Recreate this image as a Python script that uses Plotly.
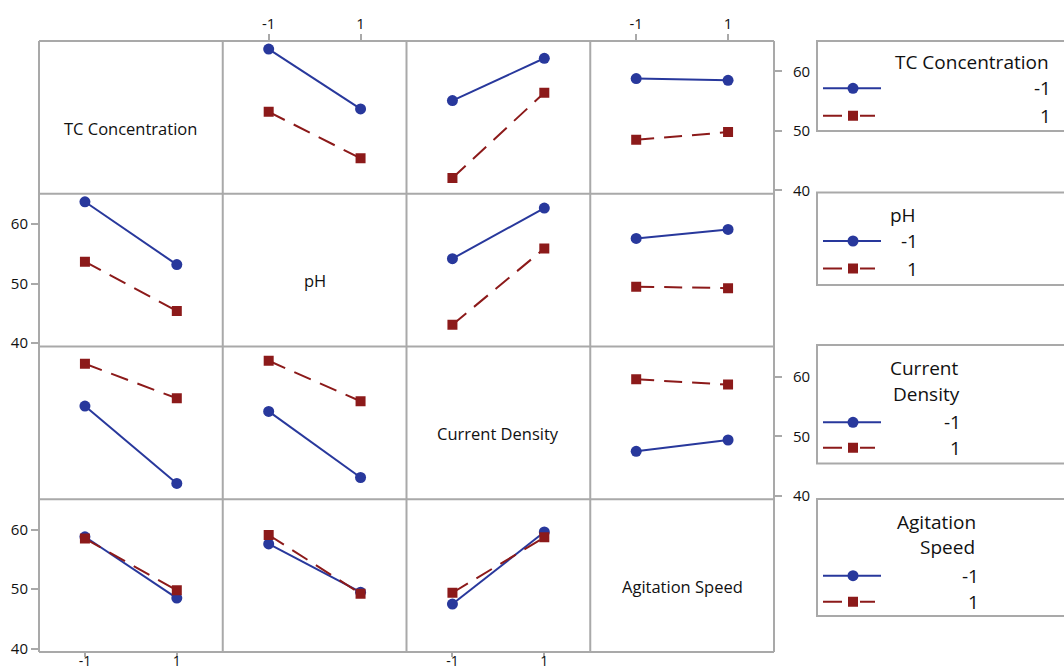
import plotly.graph_objects as go

W, H = 1064, 672

# ---------------- data ----------------
factors = ["TC Concentration", "pH", "Current Density", "Agitation Speed"]
legend_title_lines = [["TC Concentration"], ["pH"], ["Current", "Density"], ["Agitation", "Speed"]]
levels = [-1, 1]
level_labels = ["-1", "1"]

# mean response for each pair of factors
# rows: level (-1, 1) of the first factor, cols: level (-1, 1) of the second factor
tc_ph = [[63.75, 53.7], [53.2, 45.4]]
tc_cd = [[55.1, 62.2], [42.1, 56.4]]
tc_as = [[58.8, 58.5], [48.5, 49.8]]
ph_cd = [[54.2, 62.7], [43.1, 55.9]]
ph_as = [[57.6, 59.1], [49.5, 49.25]]
cd_as = [[47.5, 49.4], [59.6, 58.7]]

y_ticks = [40, 50, 60]
y_tick_text = ["40", "50", "60"]
x_ticks = [-1, 1]
x_tick_text = ["-1", "1"]

pair_means = {(0, 1): tc_ph, (0, 2): tc_cd, (0, 3): tc_as,
              (1, 2): ph_cd, (1, 3): ph_as, (2, 3): cd_as}


def mean(i, li, j, lj):
    if (i, j) in pair_means:
        return pair_means[(i, j)][li][lj]
    return pair_means[(j, i)][lj][li]


# ---------------- style / geometry ----------------
BLUE = "#28389C"
RED = "#8C1A1A"
GRID = "#A9A9A9"
TXT = "#111111"
FONT = "Open Sans"

GL, GR, GT, GB = 39, 774, 41, 652
cw = (GR - GL) / 4
rh = (GB - GT) / 4
XR = [-2, 2]
YR = [39.45, 65.1]


def px(x):
    return x / W


def py(y):
    return 1 - y / H


fig = go.Figure()
layout = dict(
    width=W, height=H,
    margin=dict(l=0, r=0, t=0, b=0, autoexpand=False),
    paper_bgcolor="white", plot_bgcolor="white",
    showlegend=False,
    font=dict(family=FONT, color=TXT),
)


def axname(n, kind):
    return kind if n == 1 else f"{kind}{n}"


for r in range(4):
    for c in range(4):
        n = r * 4 + c + 1
        x0 = GL + c * cw
        x1 = x0 + cw
        y0 = GT + r * rh
        y1 = y0 + rh
        xl = (r == 0 and c in (1, 3)) or (r == 3 and c in (0, 2))
        yl = (c == 0 and r in (1, 3)) or (c == 3 and r in (0, 2))
        layout[("xaxis" if n == 1 else f"xaxis{n}")] = dict(
            domain=[px(x0), px(x1)], range=XR, anchor=axname(n, "y"),
            showline=False, showgrid=False, zeroline=False, automargin=False,
            tickvals=x_ticks, ticktext=x_tick_text,
            ticks="outside" if xl else "", ticklen=6 if r == 0 else 4,
            tickwidth=2, tickcolor=GRID,
            showticklabels=xl, side="top" if r == 0 else "bottom",
            ticklabelstandoff=-1 if r == 0 else -8,
            tickfont=dict(size=15 if r == 0 else 14, color=TXT, family=FONT), fixedrange=True,
        )
        layout[("yaxis" if n == 1 else f"yaxis{n}")] = dict(
            domain=[py(y1), py(y0)], range=YR, anchor=axname(n, "x"),
            showline=False, showgrid=False, zeroline=False, automargin=False,
            tickvals=y_ticks, ticktext=y_tick_text,
            ticks="outside" if yl else "", ticklen=7, tickwidth=2, tickcolor=GRID,
            showticklabels=yl, side="right" if c == 3 else "left",
            ticklabelstandoff=8 if c == 3 else 0,
            tickfont=dict(size=15, color=TXT, family=FONT), fixedrange=True,
        )
        if r == c:
            fig.add_trace(go.Scatter(x=[None], y=[None], xaxis=axname(n, "x"),
                                     yaxis=axname(n, "y"), hoverinfo="skip"))
            continue
        for li in range(2):
            ys = [mean(r, li, c, lj) for lj in range(2)]
            fig.add_trace(go.Scatter(
                x=levels, y=ys, mode="lines+markers",
                xaxis=axname(n, "x"), yaxis=axname(n, "y"),
                line=dict(color=BLUE if li == 0 else RED, width=2,
                          dash="solid" if li == 0 else "18px,10px"),
                marker=dict(symbol="circle" if li == 0 else "square",
                            size=11 if li == 0 else 10,
                            color=BLUE if li == 0 else RED),
                hoverinfo="skip",
            ))

shapes = []
# panel grid lines
for k in range(5):
    xk = GL + k * cw
    shapes.append(dict(type="line", xref="paper", yref="paper",
                       x0=px(xk), x1=px(xk), y0=py(GB), y1=py(GT),
                       line=dict(color=GRID, width=2)))
    yk = GT + k * rh
    shapes.append(dict(type="line", xref="paper", yref="paper",
                       x0=px(GL), x1=px(GR), y0=py(yk), y1=py(yk),
                       line=dict(color=GRID, width=2)))

annotations = []
# diagonal labels
for k, name in enumerate(factors):
    annotations.append(dict(
        text=name, x=px(GL + k * cw + cw / 2), y=py(GT + k * rh + 87),
        xref="paper", yref="paper", xanchor="center", yanchor="middle",
        showarrow=False, font=dict(size=16.5, color=TXT, family=FONT)))

# legends
box_tops = [41, 192.5, 345, 499]
box_bottoms = [131, 285, 463.5, 616]
title_ys = [[61.7], [215], [368.3, 394], [521.7, 547.3]]
title_rights = [[1051], [918], [960, 962], [978, 977]]
entry_ys = [[88.3, 115.7], [241, 268.5], [422.3, 447.7], [575.7, 601.7]]
entry_rights = [1053, 920, 963, 981]

for b in range(4):
    shapes.append(dict(type="rect", xref="paper", yref="paper",
                       x0=px(817), x1=px(1070), y0=py(box_bottoms[b]), y1=py(box_tops[b]),
                       line=dict(color=GRID, width=2), fillcolor="rgba(0,0,0,0)"))
    for t, line_txt in enumerate(legend_title_lines[b]):
        annotations.append(dict(
            text=line_txt, x=px(title_rights[b][t]), y=py(title_ys[b][t]),
            xref="paper", yref="paper", xanchor="right", yanchor="middle",
            showarrow=False, font=dict(size=19, color=TXT, family=FONT)))
    for li in range(2):
        annotations.append(dict(
            text=level_labels[li], x=px(entry_rights[b]), y=py(entry_ys[b][li]),
            xref="paper", yref="paper", xanchor="right", yanchor="middle",
            showarrow=False, font=dict(size=19, color=TXT, family=FONT)))
    # legend sample axes
    n = 17 + b
    s = entry_ys[b][1] - entry_ys[b][0]
    top = entry_ys[b][0] - s / 2
    bot = entry_ys[b][1] + s / 2
    layout[f"xaxis{n}"] = dict(domain=[px(823), px(881)], range=[0, 58], visible=False,
                               anchor=f"y{n}", fixedrange=True, automargin=False)
    layout[f"yaxis{n}"] = dict(domain=[py(bot), py(top)], range=[-0.5, 1.5], visible=False,
                               anchor=f"x{n}", fixedrange=True, automargin=False)
    fig.add_trace(go.Scatter(
        x=[0, 58], y=[1, 1], mode="lines", xaxis=f"x{n}", yaxis=f"y{n}",
        line=dict(color=BLUE, width=2), hoverinfo="skip"))
    fig.add_trace(go.Scatter(
        x=[30], y=[1], mode="markers", xaxis=f"x{n}", yaxis=f"y{n}",
        marker=dict(symbol="circle", size=11, color=BLUE), hoverinfo="skip"))
    fig.add_trace(go.Scatter(
        x=[0, 52], y=[0, 0], mode="lines", xaxis=f"x{n}", yaxis=f"y{n}",
        line=dict(color=RED, width=2, dash="19px,18px,15px,40px"), hoverinfo="skip"))
    fig.add_trace(go.Scatter(
        x=[30], y=[0], mode="markers", xaxis=f"x{n}", yaxis=f"y{n}",
        marker=dict(symbol="square", size=10, color=RED), hoverinfo="skip"))

layout["annotations"] = annotations
layout["shapes"] = shapes
fig.update_layout(**layout)
fig.write_html("out.html")
